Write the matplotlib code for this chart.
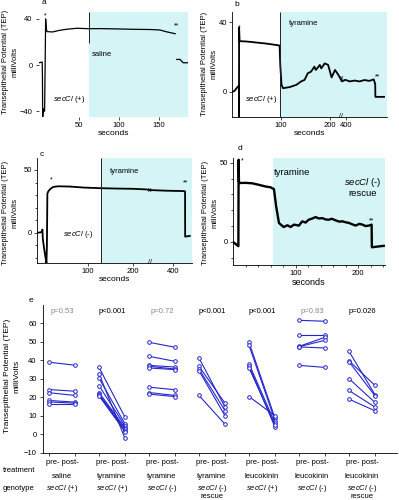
import numpy as np
import matplotlib
matplotlib.use('Agg')
import matplotlib.pyplot as plt
from matplotlib.transforms import blended_transform_factory as btf

plt.rcParams['font.family'] = ['Liberation Sans', 'DejaVu Sans']
plt.rcParams['mathtext.fontset'] = 'custom'
plt.rcParams['mathtext.it'] = 'Liberation Sans:italic'
plt.rcParams['mathtext.rm'] = 'Liberation Sans'

nan = np.nan
# ---------------- data ----------------
# panel a (saline, secCl (+))
trace_a_t = [0, 4, 4.3, 4.6, 5.5, 7, 8.3, 9, 10, 17, 25, 34, 47, 59.5, 62, 76, 100, 118, 140, 151, 160, 170, nan, 172, 176, 180, 186]
trace_a_v = [2, 2.6, -10, -45, -38, -40, 40, 32, 29, 28.7, 30, 31, 31.9, 31.6, 31.5, 31.6, 31.3, 31, 30.8, 30.4, 28.7, 27.2, nan, 4.9, 4.9, 2, 2]
# panel b (tyramine, secCl (+))
trace_b_t = [0, 5, 11, 14, 14.2, 14.5, 15.5, 30, 50, 70, 90, 97, 98.5, 101, 104, 117, 131, 141, 148, 154.5, 161, 168, 171, 179,
             182, 189, 196, 203, 210, 217, 224, 231, 240, 250, 260, 270, 280, 289, 292, 292.3, 300, 310]
trace_b_v = [0, 0.5, 2.7, 3.5, -14.5, 37, 29.2, 29, 28.4, 27.8, 27, 26.7, 15, 4, 2.1, 2.7, 4, 6, 6.9, 10.7, 11.6, 14.5, 12.6, 15.5,
             13.5, 16.4, 15.5, 8.3, 12.6, 9.7, 6, 6.9, 6, 6.5, 6, 6.8, 6.3, 7.2, 4.3, -2.9, -2.9, -2.9]
# panel c (tyramine, secCl (-))
trace_c_t = [-13, -3, -1, 0, 3, 6, 8, 9, 10, 12, 17, 23, 34, 60, 90, 127, 163, 200, 230, 238, 274, 311, 315.6, 315.8, 326]
trace_c_v = [0, 0.5, 2.6, -5, -13, -20, -24, -10, 31, 33, 35, 36.5, 37, 36.8, 36, 35.5, 35.2, 35, 34.5, 34, 33.5, 33.2, 33, -3, -2.5]
# panel d (tyramine, secCl (-) rescue)
trace_d_t = [0, 8.6, 9, 9.5, 10.6, 20, 31, 42, 52, 60, 65.5, 69, 73.5, 81, 87, 92, 97.5, 105.4, 110.7, 116, 121, 127, 132, 137,
             142.7, 148, 153, 158, 164, 170, 175, 180, 185.3, 190, 196, 202, 207, 212, 217.3, 221.6, 222, 230, 241]
trace_d_v = [0, -2.7, 51.9, 38, 37.2, 37.3, 37, 36, 35, 34.5, 33.3, 22.4, 11.9, 9.4, 10.5, 9.4, 10.9, 10.3, 13, 12.2, 14, 14.8, 15.7, 14.8,
             15, 14.2, 14, 14.6, 13.6, 12.8, 13, 12.4, 12, 11.2, 10.3, 11.4, 10.9, 10.0, 10.3, 10.9, -3.4, -3, -2.5]

# panel e (paired pre/post TEP, mV)
g1_pre = [39.0, 24.2, 22.5, 18.3, 17.5, 16.5]
g1_post = [37.4, 23.3, 21.0, 17.4, 16.8, 16.5]
g2_pre = [36.2, 32.8, 30.4, 26.3, 22.6, 21.7, 21.2, 20.8]
g2_post = [9.2, -2.3, 5.6, 4.5, 3.5, 2.8, 2.0, 1.4]
g3_pre = [49.8, 42.2, 37.3, 36.8, 35.9, 25.5, 22.6, 21.7]
g3_post = [47.1, 39.5, 36.4, 35.3, 35.0, 24.1, 21.0, 20.4]
g4_pre = [41.3, 36.8, 35.3, 34.4, 21.0]
g4_post = [14.7, 16.8, 12.8, 10.0, 5.4]
g5_pre = [49.8, 48.2, 38.2, 37.1, 35.9, 20.4]
g5_post = [8.7, 7.4, 6.0, 3.8, 5.0, 10.0]
g6_pre = [61.7, 54.0, 47.6, 47.4, 47.3, 37.3]
g6_post = [61.2, 54.0, 52.5, 50.9, 46.7, 36.2]
g7_pre = [44.9, 39.8, 39.3, 30.1, 23.7, 19.0]
g7_post = [21.4, 26.4, 20.8, 17.2, 14.7, 12.7]
p_labels = ['p=0.53', 'p<0.001', 'p=0.72', 'p<0.001', 'p<0.001', 'p=0.83', 'p=0.026']
p_signif = [False, True, False, True, True, False, True]
treatments = ['saline', 'tyramine', 'tyramine', 'tyramine', 'leucokinin', 'leucokinin', 'leucokinin']
genotypes = ['(+)', '(+)', '(-)', '(-)', '(+)', '(-)', '(-)']
rescue = [False, False, False, True, False, False, True]

# ---------------- layout ----------------
W, H = 399, 500
fig = plt.figure(figsize=(3.99, 5.0), dpi=100)
CYAN = '#d5f4f6'
BLUE = '#2626cc'
SEC = r'$\mathit{secCl}$'
YLAB = 'Transepithelial Potential (TEP)\nmilliVolts'
FS = 5.5


def ax_px(l, t, r, b):
    return fig.add_axes([l / W, 1 - b / H, (r - l) / W, (b - t) / H])


def ftxt(px, py, s, **kw):
    kw.setdefault('fontsize', FS)
    return fig.text(px / W, 1 - py / H, s, **kw)


def style(ax, spines=True):
    for s in ['top', 'right']:
        ax.spines[s].set_visible(False)
    for s in ['left', 'bottom']:
        ax.spines[s].set_visible(spines)
        ax.spines[s].set_linewidth(0.6)
    ax.tick_params(labelsize=FS, length=2, width=0.5, pad=1.5)
    ax.tick_params(which='minor', length=1.5, width=0.5)
    ax.patch.set_alpha(0)


# panel a
axa = ax_px(39, 12, 188, 117)
style(axa, spines=False)
axa.set_xlim(0, 186)
axa.set_ylim(-45, 46)
axa.axvspan(62, 186, color=CYAN, zorder=0, lw=0)
axa.plot(trace_a_t, trace_a_v, color='black', lw=0.9)
axa.vlines(62, 19, 46, color='#222222', lw=0.7)
axa.set_xticks([50, 100, 150])
axa.set_yticks([-40, 0, 40])
axa.tick_params(axis='y', pad=2.5)
axa.text(66, 9.6, 'saline', fontsize=5.5, va='center')
axa.text(18, -29.8, SEC + ' (+)', fontsize=5.5, va='center')
axa.text(8.3, 41, '*', fontsize=5, ha='center')
axa.text(172, 33, '**', fontsize=5, ha='center')
axa.set_xlabel('seconds', fontsize=6, labelpad=1)
ftxt(42, 3, 'a', fontsize=6, va='center')
ftxt(10.5, 62, YLAB, rotation=90, ha='center', va='center', multialignment='center', linespacing=1.45)

# panel b
axb = ax_px(232, 12, 387, 117)
style(axb)
axb.set_xlim(0, 316)
axb.set_ylim(-14.5, 46)
axb.axvspan(98, 316, color=CYAN, zorder=0, lw=0)
axb.plot(trace_b_t, trace_b_v, color='black', lw=1.3)
axb.vlines(98, -14.5, 46, color='#222222', lw=0.7)
axb.set_xticks([100, 200, 232])
axb.set_xticklabels(['100', '200', '400'])
axb.set_yticks([0, 40])
axb.text(115, 39.4, 'tyramine', fontsize=5.5, va='center')
axb.text(26.5, -4.2, SEC + ' (+)', fontsize=5.5, va='center')
axb.text(15.7, 36, '*', fontsize=5, ha='center')
axb.text(296, 8, '**', fontsize=5, ha='center')
axb.text(224, 7.5, 'x', fontsize=5, ha='center', va='center')
axb.text(222, -14.5, '//', fontsize=5, ha='center', va='center')
axb.set_xlabel('seconds', fontsize=6, labelpad=1)
ftxt(234, 5, 'b', fontsize=6, va='center')
ftxt(209, 64, YLAB, rotation=90, ha='center', va='center', multialignment='center', linespacing=1.45)

# panel c
axc = ax_px(37, 158, 192, 263)
style(axc)
axc.set_xlim(-13, 331)
axc.set_ylim(-24, 59.5)
axc.axvspan(129.6, 331, color=CYAN, zorder=0, lw=0)
axc.plot(trace_c_t, trace_c_v, color='black', lw=1.3)
axc.vlines(129.6, -24, 59.5, color='#222222', lw=0.7)
axc.set_xticks([100, 200, 289])
axc.set_xticklabels(['100', '200', '400'])
axc.set_yticks([0, 50])
axc.set_yticks([-20, -10, 10, 20, 30, 40], minor=True)
axc.text(148, 48.7, 'tyramine', fontsize=5.5, va='center')
axc.text(45, -1, SEC + ' (-)', fontsize=5.5, va='center')
axc.text(19, 41, '*', fontsize=5, ha='center')
axc.text(316, 38.5, '**', fontsize=5, ha='center')
axc.text(238, 34, 'x', fontsize=5, ha='center', va='center')
axc.text(238, -24, '//', fontsize=5, ha='center', va='center')
axc.set_xlabel('seconds', fontsize=6, labelpad=1)
ftxt(40, 155, 'c', fontsize=6, va='center')
ftxt(10, 213, YLAB, rotation=90, ha='center', va='center', multialignment='center', linespacing=1.45)

# panel d
axd = ax_px(233, 158, 385, 265)
style(axd)
axd.set_xlim(0, 243)
axd.set_ylim(-14.6, 53)
axd.axvspan(64, 243, color=CYAN, zorder=0, lw=0)
axd.plot(trace_d_t, trace_d_v, color='black', lw=1.7)
axd.set_xticks([100, 200])
axd.set_xticks([20, 40, 60, 80, 120, 140, 160, 180, 220, 240], minor=True)
axd.set_yticks([0, 50])
axd.set_yticks([-10, 10, 20, 30, 40], minor=True)
axd.text(65.5, 44, 'tyramine', fontsize=6.8, va='center')
axd.text(208, 34.4, SEC + ' (-)\nrescue', fontsize=6.8, va='center', ha='center', linespacing=1.0)
axd.text(14, 50.5, '*', fontsize=5, ha='center')
axd.text(222, 12.5, '**', fontsize=5, ha='center')
axd.set_xlabel('seconds', fontsize=6.5, labelpad=1)
ftxt(238, 148, 'd', fontsize=6, va='center')
ftxt(210.5, 213, YLAB, rotation=90, ha='center', va='center', multialignment='center', linespacing=1.45)

# panel e
axe = ax_px(43, 305, 397, 452.7)
style(axe)
axe.set_xlim(-0.12, 6.96)
axe.set_ylim(-10, 70)
axe.set_yticks(range(-10, 61, 10))
axe.tick_params(axis='y', length=2.5, pad=2)
groups_pre = [g1_pre, g2_pre, g3_pre, g4_pre, g5_pre, g6_pre, g7_pre]
groups_post = [g1_post, g2_post, g3_post, g4_post, g5_post, g6_post, g7_post]
DX = 0.52
ticks = []
for i, (pre, post) in enumerate(zip(groups_pre, groups_post)):
    for a, b in zip(pre, post):
        axe.plot([i, i + DX], [a, b], color=BLUE, lw=0.8, marker='o', ms=2.6,
                 mfc='white', mec=BLUE, mew=0.7)
    ticks += [i, i + DX]
axe.set_xticks(ticks)
axe.set_xticklabels([])
tr = btf(axe.transData, fig.transFigure)
for i in range(7):
    xc = i + DX / 2
    axe.text(xc, 1 - 311.7 / H, p_labels[i], transform=tr, ha='center', va='center', fontsize=FS,
             color='black' if p_signif[i] else '#8a8a8a')
    axe.text(xc, 1 - 462 / H, 'pre- post-', transform=tr, ha='center', va='center', fontsize=FS)
    axe.text(xc, 1 - 476 / H, treatments[i], transform=tr, ha='center', va='center', fontsize=FS)
    axe.text(xc, 1 - 488 / H, SEC + ' ' + genotypes[i], transform=tr, ha='center', va='center', fontsize=FS)
    if rescue[i]:
        axe.text(xc, 1 - 497 / H, 'rescue', transform=tr, ha='center', va='center', fontsize=FS)
ftxt(35, 470, 'treatment', ha='right', va='center')
ftxt(34, 488, 'genotype', ha='right', va='center')
ftxt(29, 300, 'e', fontsize=6, va='center')
ftxt(12, 376, YLAB, rotation=90, ha='center', va='center', multialignment='center', linespacing=1.45, fontsize=6)

fig.savefig('out.png', dpi=100)
